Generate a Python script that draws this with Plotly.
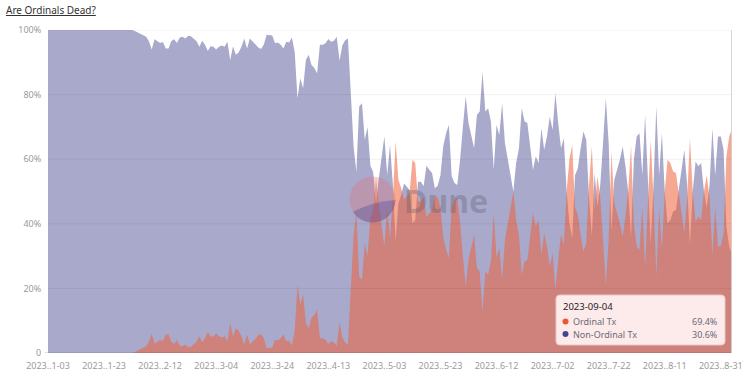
import math
import pandas as pd
import plotly.graph_objects as go

# ---------------- data ----------------
start_date = "2023-01-03"
end_date = "2023-09-04"

ordinal_pct = [
    0, 0, 0, 0, 0, 0, 0, 0, 0, 0,
    0, 0, 0, 0, 0, 0, 0, 0, 0, 0,
    0, 0, 0, 0, 0, 0, 0, 0, 0, 0,
    0, 0.3, 0.8, 1.2, 1.6, 2.1, 3.5, 6.0, 2.9, 3.6,
    4.0, 3.7, 5.7, 5.7, 3.4, 2.9, 4.0, 2.3, 2.1, 2.6,
    1.8, 1.9, 2.6, 3.5, 5.2, 3.3, 4.6, 6.5, 5.0, 5.2,
    6.0, 5.2, 4.8, 5.2, 3.6, 9.3, 5.0, 7.7, 7.0, 5.2,
    2.6, 5.7, 2.6, 3.6, 4.3, 5.4, 5.9, 4.5, 1.5, 1.6,
    1.7, 4.1, 3.9, 4.6, 5.7, 3.6, 3.9, 2.3, 6.7, 21.1,
    14.9, 18.0, 9.3, 7.7, 10.8, 11.8, 13.4, 4.6, 4.6, 4.1,
    2.8, 3.6, 3.3, 2.1, 9.5, 4.8, 3.2, 2.6, 20.0, 36.0,
    44.0, 23.7, 22.7, 34.0, 30.0, 42.0, 44.0, 54.0, 46.0, 40.0,
    33.0, 45.0, 35.6, 47.5, 65.5, 53.6, 51.0, 47.5, 48.5, 49.5,
    59.8, 58.8, 47.0, 47.0, 48.4, 42.0, 43.3, 44.3, 49.0, 48.2,
    45.0, 36.0, 32.0, 29.4, 45.3, 47.4, 48.0, 40.2, 30.0, 20.6,
    28.8, 32.5, 36.6, 26.3, 25.2, 12.9, 25.2, 24.2, 28.3, 43.3,
    29.4, 32.5, 22.7, 35.0, 40.2, 45.3, 50.0, 41.2, 36.6, 24.2,
    28.3, 28.8, 35.6, 43.3, 39.2, 41.2, 30.4, 37.1, 33.0, 26.8,
    30.9, 19.6, 28.8, 36.6, 33.5, 50.0, 59.8, 64.5, 45.0, 42.8,
    36.6, 31.4, 34.0, 52.0, 63.9, 44.3, 54.7, 48.0, 35.0, 21.1,
    35.0, 62.4, 46.4, 43.3, 40.2, 36.1, 42.2, 50.5, 64.0, 40.0,
    33.0, 32.0, 45.0, 26.3, 45.0, 66.0, 48.0, 23.7, 45.0, 32.0,
    50.0, 59.8, 58.8, 56.2, 55.7, 50.0, 43.3, 37.1, 48.0, 66.5,
    50.0, 40.7, 42.2, 41.2, 50.0, 55.0, 48.0, 30.4, 45.0, 33.0,
    33.0, 37.1, 60.8, 67.0, 69.4,
]

non_ordinal_pct = [
    100, 100, 100, 100, 100, 100, 100, 100, 100, 100,
    100, 100, 100, 100, 100, 100, 100, 100, 100, 100,
    100, 100, 100, 100, 100, 100, 100, 100, 100, 100,
    100, 99.7, 99.2, 98.8, 98.4, 97.9, 96.5, 94.0, 97.1, 96.4,
    96.0, 96.3, 94.3, 94.3, 96.6, 97.1, 96.0, 97.7, 97.9, 97.4,
    98.2, 98.1, 97.4, 96.5, 94.8, 96.7, 95.4, 93.5, 95.0, 94.8,
    94.0, 94.8, 95.2, 94.8, 96.4, 90.7, 95.0, 92.3, 93.0, 94.8,
    97.4, 94.3, 97.4, 96.4, 95.7, 94.6, 94.1, 95.5, 98.5, 98.4,
    98.3, 95.9, 96.1, 95.4, 94.3, 96.4, 96.1, 97.7, 93.3, 78.9,
    85.1, 82.0, 90.7, 92.3, 89.2, 88.2, 86.6, 95.4, 95.4, 95.9,
    97.2, 96.4, 96.7, 97.9, 90.5, 95.2, 96.8, 97.4, 80.0, 64.0,
    56.0, 76.3, 77.3, 66.0, 70.0, 58.0, 56.0, 46.0, 54.0, 60.0,
    67.0, 55.0, 64.4, 52.5, 34.5, 46.4, 49.0, 52.5, 51.5, 50.5,
    40.2, 41.2, 53.0, 53.0, 51.6, 58.0, 56.7, 55.7, 51.0, 51.8,
    55.0, 64.0, 68.0, 70.6, 54.7, 52.6, 52.0, 59.8, 70.0, 79.4,
    71.2, 67.5, 63.4, 73.7, 74.8, 87.1, 74.8, 75.8, 71.7, 56.7,
    70.6, 67.5, 77.3, 65.0, 59.8, 54.7, 50.0, 58.8, 63.4, 75.8,
    71.7, 71.2, 64.4, 56.7, 60.8, 58.8, 69.6, 62.9, 67.0, 73.2,
    69.1, 80.4, 71.2, 63.4, 66.5, 50.0, 40.2, 35.5, 55.0, 57.2,
    63.4, 68.6, 66.0, 48.0, 36.1, 55.7, 45.3, 52.0, 65.0, 78.9,
    65.0, 37.6, 53.6, 56.7, 59.8, 63.9, 57.8, 49.5, 36.0, 60.0,
    67.0, 68.0, 55.0, 73.7, 55.0, 34.0, 52.0, 76.3, 55.0, 68.0,
    50.0, 40.2, 41.2, 43.8, 44.3, 50.0, 56.7, 62.9, 52.0, 33.5,
    50.0, 59.3, 57.8, 58.8, 50.0, 45.0, 52.0, 69.6, 55.0, 67.0,
    67.0, 62.9, 39.2, 33.0, 30.6,
]

tick_dates = ["2023-01-03", "2023-01-23", "2023-02-12", "2023-03-04", "2023-03-24",
              "2023-04-13", "2023-05-03", "2023-05-23", "2023-06-12", "2023-07-02",
              "2023-07-22", "2023-08-11", "2023-08-31"]
tick_labels = ["2023..1-03", "2023..1-23", "2023..2-12", "2023..3-04", "2023..3-24",
               "2023..4-13", "2023..5-03", "2023..5-23", "2023..6-12", "2023..7-02",
               "2023..7-22", "2023..8-11", "2023..8-31"]
y_ticks = [0, 20, 40, 60, 80, 100]
y_labels = ["0", "20%", "40%", "60%", "80%", "100%"]

series_names = ["Ordinal Tx", "Non-Ordinal Tx"]
hover_date = "2023-09-04"
hover_values = ["69.4%", "30.6%"]

dates = pd.date_range(start_date, end_date, freq="D")
assert len(dates) == len(ordinal_pct) == len(non_ordinal_pct)

# ---------------- figure ----------------
W, H = 744, 371
ML, MR, MT, MB = 48, 12, 30, 18
PW, PH = W - ML - MR, H - MT - MB
FONT = "Noto Sans"


def px(x):
    return (x - ML) / PW


def py(y):
    return (H - MB - y) / PH


fig = go.Figure()
fig.add_trace(go.Scatter(
    x=dates, y=non_ordinal_pct, name=series_names[1], mode="lines",
    line=dict(width=0, color="#a9a9cc"), fill="tozeroy", fillcolor="#a9a9cc",
    hoverinfo="skip"))
fig.add_trace(go.Scatter(
    x=dates, y=ordinal_pct, name=series_names[0], mode="lines",
    line=dict(width=0, color="rgba(239,97,57,0.55)"), fill="tozeroy",
    fillcolor="rgba(239,97,57,0.55)", hoverinfo="skip"))

shapes = []
# gridlines drawn above the areas (faint)
for v in y_ticks[1:]:
    shapes.append(dict(type="line", xref="paper", yref="y", x0=0, x1=1, y0=v, y1=v,
                       line=dict(color="rgba(0,0,0,0.06)", width=1)))
# baseline
shapes.append(dict(type="line", xref="paper", yref="y", x0=px(45), x1=1, y0=0, y1=0,
                   line=dict(color="rgba(80,80,100,0.35)", width=1)))
# hover cursor line
shapes.append(dict(type="line", xref="x", yref="paper", x0=hover_date, x1=hover_date,
                   y0=0, y1=1, line=dict(color="rgba(210,210,210,0.9)", width=2)))

# Dune watermark circle
cx, cy, r = 372.5, 199.5, 23
shapes.append(dict(type="circle", xref="paper", yref="paper",
                   x0=px(cx - r), x1=px(cx + r), y0=py(cy + r), y1=py(cy - r),
                   fillcolor="rgba(225,110,110,0.3)", line=dict(width=0)))
# lower segment of the logo
pts = []
n = 30
for i in range(n + 1):
    a = math.radians(1) + (math.radians(148) - math.radians(1)) * i / n
    pts.append((cx + r * math.cos(a), cy + r * math.sin(a)))
path = "M {:.5f},{:.5f}".format(px(pts[0][0]), py(pts[0][1]))
for (x_, y_) in pts[1:]:
    path += " L {:.5f},{:.5f}".format(px(x_), py(y_))
path += " Q {:.5f},{:.5f} {:.5f},{:.5f} Z".format(px(cx), py(cy + 2), px(pts[0][0]), py(pts[0][1]))
shapes.append(dict(type="path", xref="paper", yref="paper", path=path,
                   fillcolor="rgba(70,70,150,0.35)", line=dict(width=0)))

# tooltip box (rounded rect)
bx0, bx1, by0, by1, rr = 556, 725, 295, 345, 4


def P(x, y):
    return "{:.5f},{:.5f}".format(px(x), py(y))


box = ("M " + P(bx0 + rr, by0) + " L " + P(bx1 - rr, by0) + " Q " + P(bx1, by0) + " " + P(bx1, by0 + rr) +
       " L " + P(bx1, by1 - rr) + " Q " + P(bx1, by1) + " " + P(bx1 - rr, by1) +
       " L " + P(bx0 + rr, by1) + " Q " + P(bx0, by1) + " " + P(bx0, by1 - rr) +
       " L " + P(bx0, by0 + rr) + " Q " + P(bx0, by0) + " " + P(bx0 + rr, by0) + " Z")
shapes.append(dict(type="path", xref="paper", yref="paper", path=box,
                   fillcolor="#fdeaea", line=dict(color="rgba(230,200,200,1)", width=1)))

dot_colors = ["#f2562c", "#45458f"]
rows_y = [321.5, 334]
for col, yy in zip(dot_colors, rows_y):
    shapes.append(dict(type="circle", xref="paper", yref="paper",
                       x0=px(562.5), x1=px(568.5), y0=py(yy + 3), y1=py(yy - 3),
                       fillcolor=col, line=dict(width=0)))

annotations = [
    dict(text="<u>Are Ordinals Dead?</u>", xref="paper", yref="paper", x=px(4), y=py(10),
         xanchor="left", yanchor="middle", showarrow=False,
         font=dict(family=FONT, size=10, color="#333333")),
    dict(text="<b>Dune</b>", xref="paper", yref="paper", x=px(446), y=py(200),
         xanchor="center", yanchor="middle", showarrow=False,
         font=dict(family=FONT, size=32, color="rgba(80,80,90,0.3)")),
    dict(text=hover_date, xref="paper", yref="paper", x=px(562), y=py(306),
         xanchor="left", yanchor="middle", showarrow=False, borderpad=0,
         font=dict(family=FONT, size=9.5, color="#222222")),
]
for name, val, yy in zip(series_names, hover_values, rows_y):
    annotations.append(dict(text=name, xref="paper", yref="paper", x=px(572), y=py(yy),
                            xanchor="left", yanchor="middle", showarrow=False, borderpad=0,
                            font=dict(family=FONT, size=9, color="#6a6a78")))
    annotations.append(dict(text=val, xref="paper", yref="paper", x=px(718.5), y=py(yy),
                            xanchor="right", yanchor="middle", showarrow=False, borderpad=0,
                            font=dict(family=FONT, size=9, color="#6a6a78")))

fig.update_layout(
    width=W, height=H,
    margin=dict(l=ML, r=MR, t=MT, b=MB, autoexpand=False),
    paper_bgcolor="white", plot_bgcolor="white",
    showlegend=False,
    font=dict(family=FONT, size=9, color="#9a9a9a"),
    shapes=shapes, annotations=annotations,
    xaxis=dict(range=[start_date, end_date], tickvals=tick_dates, ticktext=tick_labels,
               showgrid=False, zeroline=False, showline=False,
               ticks="outside", ticklen=4, tickcolor="rgba(0,0,0,0)",
               tickfont=dict(family=FONT, size=9, color="#9a9a9a")),
    yaxis=dict(range=[0, 100], tickvals=y_ticks, ticktext=y_labels,
               showgrid=False, zeroline=False, showline=False,
               ticks="outside", ticklen=4, tickcolor="rgba(0,0,0,0)",
               tickfont=dict(family=FONT, size=9, color="#9a9a9a")),
)

# remove the browser's default 8px page margin so the figure sits at the window origin
fig.write_html("out.html", config={"displayModeBar": False},
               post_script="document.body.style.margin='0px';")
